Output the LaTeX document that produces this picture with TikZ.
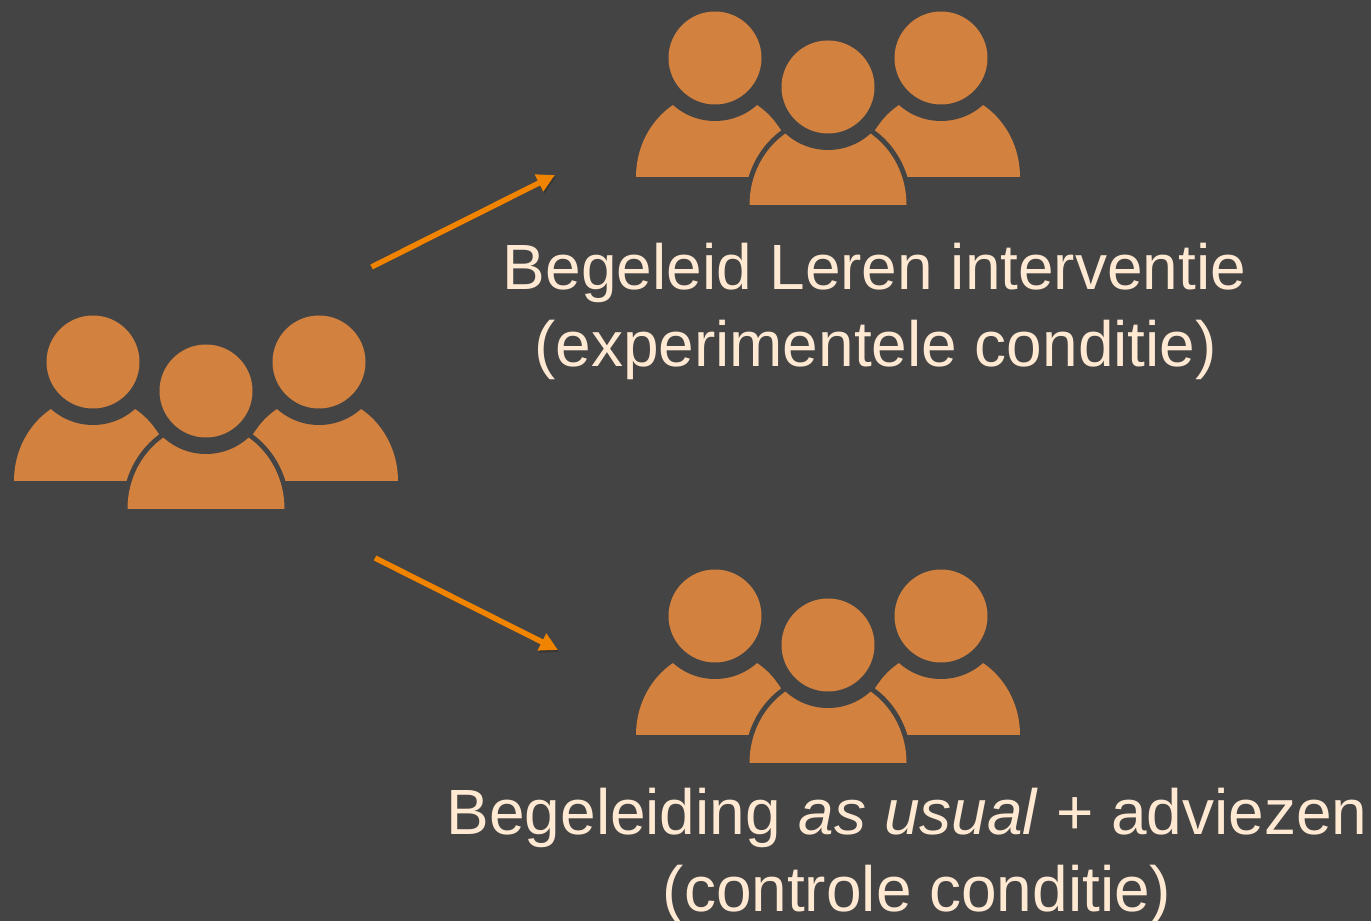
\documentclass[tikz,border=0pt]{standalone}
\usepackage{fontspec}
\setmainfont{Liberation Sans}
\usetikzlibrary{arrows.meta}
\definecolor{slate}{HTML}{444444}
\definecolor{figure}{HTML}{D2813F}
\definecolor{pijl}{HTML}{F08300}
\definecolor{cream}{HTML}{FFE9D3}
\tikzset{
	pics/people/.style = {code = {
		\foreach \x in {-1.13,1.13} {
			\fill[figure] (\x-0.79,-0.9) arc[start angle=180, end angle=0, x radius=0.79, y radius=0.85] -- cycle;
			\fill[slate] (\x,0.29) circle (0.63);
			\fill[figure] (\x,0.29) circle (0.465);
		}
		\draw[slate, line width=0.1cm] (-0.785,-1.18) arc[start angle=180, end angle=0, x radius=0.785, y radius=0.85] -- cycle;
		\fill[figure] (-0.785,-1.18) arc[start angle=180, end angle=0, x radius=0.785, y radius=0.85] -- cycle;
		\fill[slate] (0,0) circle (0.63);
		\fill[figure] (0,0) circle (0.465);
	}},
}
\begin{document}
\begin{tikzpicture}[
	     caption/.style = {text=cream, inner sep=0pt, anchor=base, font=\fontsize{18.2}{22}\selectfont},
	         pad/.style = {-{Triangle[length=0.18cm, width=0.18cm]}, pijl, line width=0.055cm,
	                       preaction={draw=black, draw opacity=0.2, transform canvas={shift={(0.01,-0.02)}}}},
	                   ]
	\fill[slate] (0,0) rectangle (13.71,9.21);
	\useasboundingbox (0,0) rectangle (13.71,9.21);
	\pic at (2.06,5.30) {people};
	\pic at (8.28,8.34) {people};
	\pic at (8.28,2.76) {people};
	\coordinate (startTop) at (3.715,6.54);
	\coordinate (endTop) at (5.55,7.46);
	\coordinate (startBottom) at (3.75,3.63);
	\coordinate (endBottom) at (5.58,2.71);
	\draw[pad] (startTop) -- (endTop);
	\draw[pad] (startBottom) -- (endBottom);
	\node[caption] (exp1) at (8.745,6.31) {Begeleid Leren interventie};
	\node[caption] (exp2) at (8.755,5.54) {(experimentele conditie)};
	\node[caption] (con1) at (9.07,0.86) {Begeleiding \textit{as usual} + adviezen};
	\node[caption] (con2) at (9.17,0.09) {(controle conditie)};
\end{tikzpicture}
\end{document}
